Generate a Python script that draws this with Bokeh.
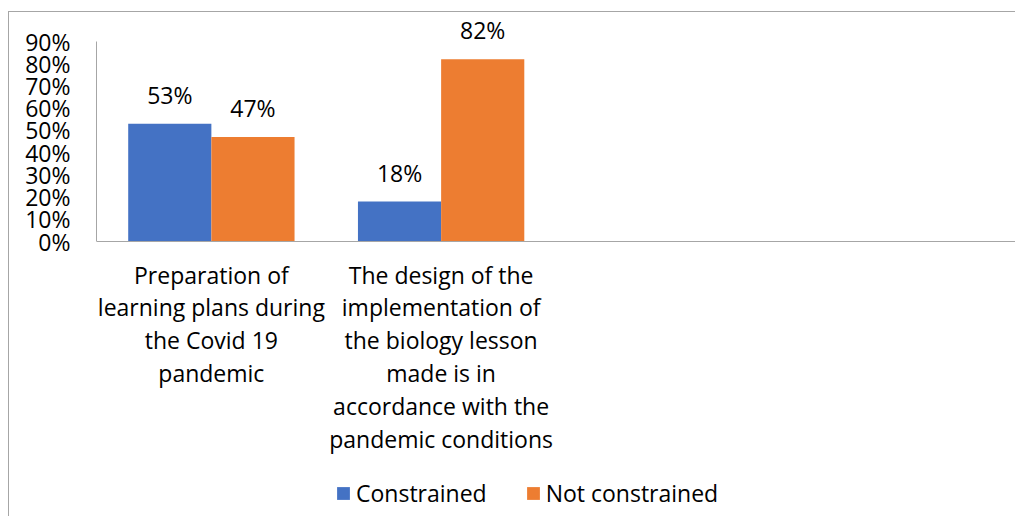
from bokeh.plotting import figure
from bokeh.models import (FactorRange, Range1d, FixedTicker, PrintfTickFormatter,
                          ColumnDataSource, Legend, LegendItem, LabelSet, Span)
from bokeh.transform import dodge
from bokeh.core.properties import value
from bokeh.embed import file_html
from bokeh.resources import INLINE

# ---- data ----
categories = [
    "Preparation of\nlearning plans during\nthe Covid 19\npandemic",
    "The design of the\nimplementation of\nthe biology lesson\nmade is in\naccordance with the\npandemic conditions",
    " ",
    "  ",
]
series_names = ["Constrained", "Not constrained"]
constrained = [53, 18]
not_constrained = [47, 82]
y_ticks = [0, 10, 20, 30, 40, 50, 60, 70, 80, 90]

FONT = "Open Sans"
FS = "23px"
BLUE = "#4472C4"
ORANGE = "#ED7D31"
GRID = "#a6a6a6"

src = ColumnDataSource(dict(
    cat=categories[:2],
    zero=[0, 0],
    c=constrained,
    n=not_constrained,
    c_lbl=[f"{v}%" for v in constrained],
    n_lbl=[f"{v}%" for v in not_constrained],
))

# the frame extends below zero so that category labels and legend live inside it
p = figure(
    x_range=FactorRange(*categories),
    y_range=Range1d(-123.75, 99),
    frame_width=919, frame_height=495,
    min_border_left=87, min_border_top=9, min_border_right=0, min_border_bottom=0,
    x_axis_location=None,
    output_backend="svg", toolbar_location=None,
)
p.styles = {"border-left": f"1px solid {GRID}", "border-top": f"1px solid {GRID}",
            "margin-top": "11px", "margin-left": "8px"}
p.outline_line_color = None
p.xgrid.grid_line_color = None
p.ygrid.grid_line_color = None

off = 0.181
bw = 0.362
r1 = p.vbar(x=dodge("cat", -off, range=p.x_range), top="c", width=bw, source=src,
            fill_color=BLUE, line_color=None)
r2 = p.vbar(x=dodge("cat", off, range=p.x_range), top="n", width=bw, source=src,
            fill_color=ORANGE, line_color=None)

# category axis line at zero
p.add_layout(Span(location=0, dimension="width", line_color=GRID, line_width=1))

# category labels
p.text(x="cat", y="zero", text="cat", source=src, text_align="center", text_baseline="top",
       y_offset=17, text_font=value(FONT), text_font_size=FS, text_color="#000000",
       text_line_height=1.03)

# data labels
for col, o in (("c", -off), ("n", off)):
    ls = LabelSet(x=dodge("cat", o, range=p.x_range), y=col, text=col + "_lbl", source=src,
                  text_align="center", text_baseline="bottom", y_offset=13,
                  text_font=value(FONT), text_font_size=FS, text_color="#000000")
    p.add_layout(ls)

# y axis
p.yaxis.bounds = (0, 90)
p.yaxis.ticker = FixedTicker(ticks=y_ticks)
p.yaxis.formatter = PrintfTickFormatter(format="%d%%")
p.yaxis.major_tick_line_color = None
p.yaxis.minor_tick_line_color = None
p.yaxis.axis_line_color = GRID
p.yaxis.major_label_standoff = 20
p.yaxis.major_label_text_font = FONT
p.yaxis.major_label_text_font_size = FS
p.yaxis.major_label_text_color = "#000000"

legend = Legend(items=[LegendItem(label=series_names[0], renderers=[r1]),
                       LegendItem(label=series_names[1], renderers=[r2])],
                orientation="horizontal", location=(239, 7))
legend.border_line_color = None
legend.background_fill_alpha = 0
legend.padding = 0
legend.margin = 0
legend.glyph_width = 16
legend.glyph_height = 16
legend.label_standoff = 5
legend.spacing = 38
legend.label_text_font = FONT
legend.label_text_font_size = FS
legend.label_text_color = "#000000"
p.add_layout(legend)

open("out.html", "w").write(file_html(p, INLINE))
